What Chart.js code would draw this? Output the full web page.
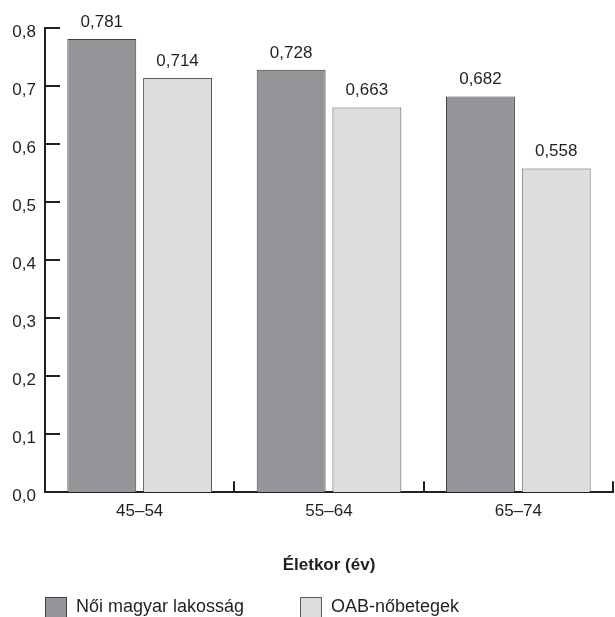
<!DOCTYPE html>
<html>
<head>
<meta charset="utf-8">
<script src="https://cdn.jsdelivr.net/npm/chart.js@4/dist/chart.umd.min.js"></script>
<style>
  html, body { margin: 0; padding: 0; background: #fff; }
  #wrap { width: 615px; height: 617px; }
</style>
</head>
<body>
<div id="wrap"><canvas id="chart" width="615" height="617"></canvas></div>
<script>
// Values
var ageGroups = ['45\u201354', '55\u201364', '65\u201374'];
var populationValues = [0.781, 0.728, 0.682];
var patientValues = [0.714, 0.663, 0.558];
var seriesNames = ['N\u0151i magyar lakoss\u00e1g', 'OAB-n\u0151betegek'];
var axisTitle = '\u00c9letkor (\u00e9v)';

var FONT = "'Liberation Sans', Arial, sans-serif";
var INK = '#231f20';

function comma(v, digits) {
  return v.toFixed(digits).replace('.', ',');
}

// inward tick marks on both axes
var innerTicks = {
  id: 'innerTicks',
  afterDraw: function(chart) {
    var ctx = chart.ctx, area = chart.chartArea;
    var x = chart.scales.x, y = chart.scales.y;
    ctx.save();
    ctx.strokeStyle = INK;
    ctx.lineWidth = 2;
    ctx.beginPath();
    y.ticks.forEach(function(t) {
      if (t.value === 0) return;
      var py = Math.round(y.getPixelForValue(t.value));
      ctx.moveTo(area.left, py);
      ctx.lineTo(area.left + 15, py);
    });
    for (var i = 0; i < ageGroups.length; i++) {
      var px = Math.round(x.getPixelForValue(i + 0.5));
      ctx.moveTo(px, area.bottom);
      ctx.lineTo(px, area.bottom - 11);
    }
    ctx.stroke();
    ctx.restore();
  }
};

// numbers on top of bars
var barValues = {
  id: 'barValues',
  afterDatasetsDraw: function(chart) {
    var ctx = chart.ctx;
    ctx.save();
    ctx.font = '17px ' + FONT;
    ctx.fillStyle = INK;
    ctx.textAlign = 'center';
    ctx.textBaseline = 'alphabetic';
    chart.data.datasets.forEach(function(ds, di) {
      chart.getDatasetMeta(di).data.forEach(function(bar, i) {
        ctx.fillText(comma(ds.data[i], 3), bar.x, bar.y - 12);
      });
    });
    ctx.restore();
  }
};

// legend left aligned under the chart
var bottomLegend = {
  id: 'bottomLegend',
  afterDraw: function(chart) {
    var ctx = chart.ctx, area = chart.chartArea;
    var offsets = [0, 255];
    var top = 597;
    ctx.save();
    ctx.font = '18px ' + FONT;
    ctx.textBaseline = 'middle';
    chart.data.datasets.forEach(function(ds, i) {
      var bx = area.left + offsets[i];
      ctx.fillStyle = ds.backgroundColor;
      ctx.fillRect(bx, top, 22, 22);
      ctx.strokeStyle = ds.borderColor;
      ctx.lineWidth = 1;
      ctx.strokeRect(bx + 0.5, top + 0.5, 21, 21);
      ctx.fillStyle = INK;
      ctx.fillText(ds.label, bx + 31, top + 10);
    });
    ctx.restore();
  }
};

new Chart(document.getElementById('chart'), {
  type: 'bar',
  data: {
    labels: ageGroups,
    datasets: [
      {
        label: seriesNames[0],
        data: populationValues,
        backgroundColor: '#939598',
        borderColor: '#414042',
        borderWidth: 1
      },
      {
        label: seriesNames[1],
        data: patientValues,
        backgroundColor: '#dcdddf',
        borderColor: '#58595b',
        borderWidth: 1
      }
    ]
  },
  options: {
    responsive: false,
    animation: false,
    devicePixelRatio: 1,
    layout: { padding: { top: 28, right: 2, bottom: 41, left: 0 } },
    datasets: {
      bar: { categoryPercentage: 0.8, barPercentage: 0.91 }
    },
    plugins: {
      legend: { display: false },
      tooltip: { enabled: false }
    },
    scales: {
      x: {
        grid: { display: false, drawTicks: false },
        border: { display: true, color: INK, width: 2 },
        ticks: { color: INK, padding: 9, font: { family: FONT, size: 17 } },
        title: {
          display: true,
          text: axisTitle,
          color: INK,
          font: { family: FONT, size: 17, weight: 'bold' },
          padding: { top: 25, bottom: 0 }
        }
      },
      y: {
        min: 0,
        max: 0.8,
        afterFit: function(scale) { scale.width = 45; },
        grid: { display: false, drawTicks: false },
        border: { display: true, color: INK, width: 2 },
        ticks: {
          stepSize: 0.1,
          color: INK,
          padding: 9,
          labelOffset: 4,
          font: { family: FONT, size: 17 },
          callback: function(v) { return comma(v, 1); }
        }
      }
    }
  },
  plugins: [innerTicks, barValues, bottomLegend]
});
</script>
</body>
</html>
